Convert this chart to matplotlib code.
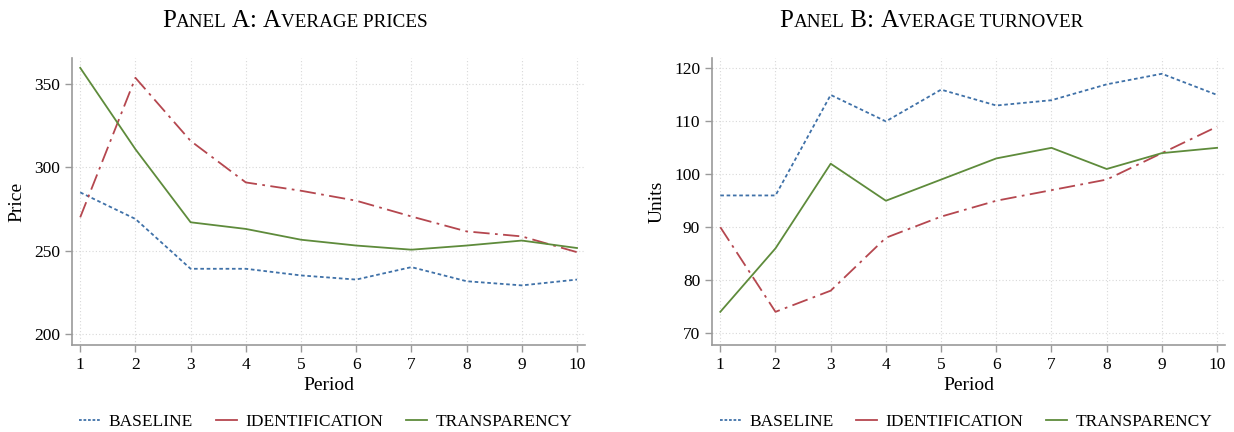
import matplotlib.pyplot as plt
from matplotlib.lines import Line2D

periods = [1, 2, 3, 4, 5, 6, 7, 8, 9, 10]

# Panel A: average prices
price_baseline = [285, 269, 239, 239, 235, 232.5, 240, 231.5, 229, 232.5]
price_ident = [270, 354, 316, 291, 286, 280, 270.5, 261.5, 258.5, 249]
price_transp = [360, 311, 267, 263, 256.5, 253, 250.5, 253, 256, 251.5]

# Panel B: average turnover
units_baseline = [96, 96, 115, 110, 116, 113, 114, 117, 119, 115]
units_ident = [90, 74, 78, 88, 92, 95, 97, 99, 104, 109]
units_transp = [74, 86, 102, 95, 99, 103, 105, 101, 104, 105]

series_names = ['BASELINE', 'IDENTIFICATION', 'TRANSPARENCY']

plt.rcParams['font.family'] = ['Liberation Serif', 'DejaVu Serif']

blue = '#3f71a8'
red = '#b5474f'
green = '#5e8b3b'
styles = [dict(color=blue, ls=(0, (2, 1.5)), lw=1.3),
          dict(color=red, ls=(0, (9, 3, 1.5, 3)), lw=1.3),
          dict(color=green, ls='-', lw=1.3)]

fig = plt.figure(figsize=(12.34, 4.32), dpi=100)


def small_caps(x, y, words):
    # words: list of (text, size) pieces drawn one after another, centred on x
    r = fig.canvas.get_renderer()
    parts = []
    total = 0
    for txt, size in words:
        t = fig.text(0, y, txt, fontsize=size, va='baseline', ha='left')
        w = t.get_window_extent(renderer=r).width
        parts.append((t, w))
        total += w
    start = x * fig.bbox.width - total / 2
    for t, w in parts:
        t.set_x(start / fig.bbox.width)
        start += w


def panel(rect, base, ident, transp, ylim, yticks, ylabel):
    ax = fig.add_axes(rect)
    for vals, st in zip([base, ident, transp], styles):
        ax.plot(periods, vals, **st)
    ax.set_xlim(0.85, 10.15)
    ax.set_ylim(*ylim)
    ax.set_xticks(periods)
    ax.set_yticks(yticks)
    ax.grid(True, color='#d8d8d8', ls=(0, (1, 2)), lw=0.8)
    for s in ['top', 'right']:
        ax.spines[s].set_visible(False)
    for s in ['left', 'bottom']:
        ax.spines[s].set_color('#9a9a9a')
        ax.spines[s].set_linewidth(1.2)
    ax.tick_params(colors='#9a9a9a', labelcolor='black', labelsize=12.5,
                   length=5, width=1)
    ax.set_xlabel('Period', fontsize=14, labelpad=3)
    ax.set_ylabel(ylabel, fontsize=14, labelpad=6)
    return ax


axA = panel([0.0583, 0.201, 0.416, 0.665], price_baseline, price_ident, price_transp,
            (193, 366), [200, 250, 300, 350], 'Price')
axB = panel([0.577, 0.201, 0.416, 0.665], units_baseline, units_ident, units_transp,
            (67.7, 122), [70, 80, 90, 100, 110, 120], 'Units')

handles = [Line2D([], [], color=blue, ls=(0, (1.5, 1)), lw=1.3),
           Line2D([], [], color=red, ls='-', lw=1.3),
           Line2D([], [], color=green, ls='-', lw=1.3)]
for cx in [0.264, 0.783]:
    fig.legend(handles, series_names, loc='center', bbox_to_anchor=(cx, 0.023),
               ncol=3, frameon=False, fontsize=12.5, handlelength=1.2,
               handletextpad=0.5, columnspacing=1.3)

small_caps(0.239, 0.9375, [('P', 18), ('ANEL', 13.8), (' A: ', 18), ('A', 18),
                           ('VERAGE PRICES', 13.8)])
small_caps(0.755, 0.9375, [('P', 18), ('ANEL', 13.8), (' B: ', 18), ('A', 18),
                           ('VERAGE TURNOVER', 13.8)])

fig.savefig('out.png', dpi=100)
